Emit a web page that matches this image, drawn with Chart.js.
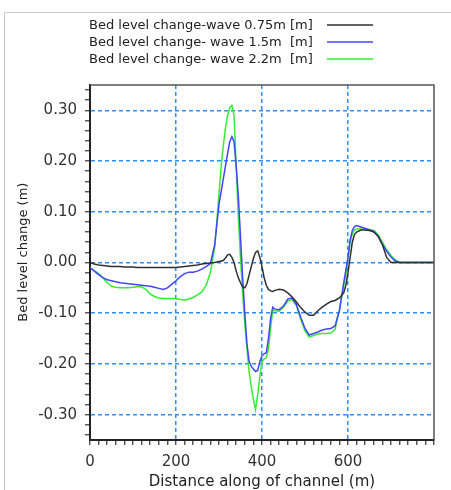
<!DOCTYPE html>
<html>
<head>
<meta charset="utf-8">
<script src="https://cdn.jsdelivr.net/npm/chart.js@4.4.0/dist/chart.umd.min.js"></script>
<style>
  html, body { margin: 0; padding: 0; background: #fff; }
  #wrap { width: 451px; height: 490px; }
</style>
</head>
<body>
<div id="wrap"><canvas id="chart" width="451" height="490"></canvas></div>
<script>
// distance along channel (m)
const distance = [0,10,20,30,40,50,60,70,80,90,100,110,120,130,140,150,160,170,180,190,
  200,210,220,230,240,250,260,270,280,290,300,305,310,315,320,325,330,335,340,345,
  350,355,360,365,370,375,380,385,390,395,400,405,410,415,420,425,430,440,450,460,
  470,480,490,500,510,520,530,540,550,560,570,575,580,590,595,600,605,610,615,620,
  630,640,650,660,670,680,690,700,710,720,740,760,780,800];

// bed level change (m)
const wave075 = [0.000,-0.003,-0.005,-0.006,-0.007,-0.008,-0.008,-0.008,-0.009,-0.009,-0.009,-0.010,-0.010,-0.010,-0.010,-0.010,-0.010,-0.010,-0.010,-0.010,
  -0.010,-0.009,-0.008,-0.007,-0.006,-0.005,-0.003,-0.002,-0.001,0.000,0.002,0.003,0.004,0.009,0.015,0.016,0.010,0.000,-0.017,-0.030,
  -0.040,-0.048,-0.050,-0.042,-0.025,-0.008,0.008,0.020,0.023,0.010,-0.008,-0.030,-0.045,-0.053,-0.056,-0.057,-0.055,-0.053,-0.054,-0.060,
  -0.068,-0.078,-0.089,-0.098,-0.104,-0.104,-0.095,-0.088,-0.082,-0.077,-0.075,-0.072,-0.070,-0.060,-0.045,-0.020,0.010,0.040,0.055,0.060,
  0.064,0.064,0.063,0.060,0.052,0.035,0.010,0.000,0.000,0.000,0.000,0.000,0.000,0.000];

const wave15 = [-0.010,-0.017,-0.024,-0.030,-0.034,-0.036,-0.038,-0.040,-0.041,-0.042,-0.043,-0.044,-0.045,-0.046,-0.047,-0.049,-0.051,-0.053,-0.050,-0.043,
  -0.036,-0.028,-0.022,-0.019,-0.019,-0.017,-0.013,-0.008,-0.002,0.035,0.115,0.140,0.165,0.190,0.215,0.238,0.248,0.238,0.190,0.130,
  0.050,-0.030,-0.100,-0.160,-0.195,-0.205,-0.210,-0.215,-0.213,-0.195,-0.184,-0.180,-0.178,-0.150,-0.110,-0.088,-0.092,-0.093,-0.086,-0.072,
  -0.070,-0.083,-0.108,-0.130,-0.143,-0.140,-0.137,-0.133,-0.131,-0.130,-0.125,-0.110,-0.095,-0.040,-0.015,0.010,0.045,0.063,0.071,0.073,
  0.070,0.067,0.064,0.062,0.052,0.036,0.022,0.011,0.003,0.000,0.000,0.000,0.000,0.000];

const wave22 = [-0.010,-0.016,-0.022,-0.030,-0.040,-0.047,-0.049,-0.050,-0.050,-0.050,-0.049,-0.048,-0.048,-0.053,-0.062,-0.067,-0.070,-0.071,-0.071,-0.071,
  -0.071,-0.073,-0.074,-0.072,-0.069,-0.064,-0.058,-0.045,-0.020,0.030,0.135,0.190,0.230,0.265,0.290,0.305,0.310,0.290,0.190,0.090,
  0.010,-0.060,-0.120,-0.170,-0.215,-0.245,-0.270,-0.290,-0.260,-0.225,-0.196,-0.190,-0.188,-0.170,-0.130,-0.094,-0.095,-0.096,-0.088,-0.076,
  -0.073,-0.085,-0.112,-0.135,-0.147,-0.144,-0.141,-0.140,-0.140,-0.139,-0.132,-0.110,-0.095,-0.045,-0.025,0.010,0.040,0.056,0.064,0.066,
  0.066,0.066,0.065,0.063,0.055,0.040,0.025,0.014,0.005,0.000,0.000,0.000,0.000,0.000];

const seriesLabels = ['Bed level change-wave 0.75m [m]', 'Bed level change- wave 1.5m  [m]', 'Bed level change- wave 2.2m  [m]'];
const seriesColors = ['#303030', '#4444ff', '#33ee33'];
const xMajorTicks = [0, 200, 400, 600];
const yMajorTicks = [-0.30, -0.20, -0.10, 0.00, 0.10, 0.20, 0.30];

const pts = ys => distance.map((d, i) => ({ x: d, y: ys[i] }));
const isMajorX = v => xMajorTicks.includes(Math.round(v));
const isMajorY = v => yMajorTicks.some(t => Math.abs(t - v) < 1e-6);
const FONT = 'DejaVu Sans';

// frame, top/right box lines and the legend (text first, line sample after)
const decor = {
  id: 'decor',
  beforeDraw(chart) {
    const c = chart.ctx;
    c.save();
    c.strokeStyle = '#c8c8c8';
    c.lineWidth = 1;
    c.beginPath();
    c.moveTo(4.5, 490); c.lineTo(4.5, 12.5); c.lineTo(451, 12.5);
    c.stroke();
    c.restore();
  },
  afterDatasetsDraw(chart) {
    const c = chart.ctx, a = chart.chartArea;
    c.save();
    c.strokeStyle = '#555';
    c.lineWidth = 1.5;
    c.beginPath();
    c.moveTo(a.left, a.top); c.lineTo(a.right, a.top); c.lineTo(a.right, a.bottom);
    c.stroke();
    c.font = '13px "' + FONT + '"';
    c.textBaseline = 'middle';
    c.fillStyle = '#222';
    chart.data.datasets.forEach((ds, i) => {
      const y = 25 + i * 17;
      c.fillText(ds.label, 89, y + 1);
      c.strokeStyle = ds.borderColor;
      c.lineWidth = 1.5;
      c.beginPath();
      c.moveTo(327, y); c.lineTo(373, y);
      c.stroke();
    });
    c.restore();
  }
};

new Chart(document.getElementById('chart'), {
  type: 'line',
  data: {
    datasets: [wave075, wave15, wave22].map((s, i) => ({
      label: seriesLabels[i],
      data: pts(s),
      borderColor: seriesColors[i],
      borderWidth: 1.5,
      pointRadius: 0,
      tension: 0,
      fill: false
    }))
  },
  options: {
    responsive: false,
    animation: false,
    layout: { padding: { top: 85, right: 17, left: 0, bottom: 0 } },
    plugins: { legend: { display: false }, tooltip: { enabled: false } },
    scales: {
      x: {
        type: 'linear', min: 0, max: 800,
        afterBuildTicks: s => { const t = []; for (let v = 0; v <= 800; v += 20) t.push({ value: v }); s.ticks = t; },
        afterFit: s => { s.height = 50; s.paddingLeft = 0; s.paddingRight = 0; },
        ticks: {
          autoSkip: false, maxRotation: 0, padding: 8,
          font: { family: FONT, size: 15 }, color: '#333',
          callback: v => isMajorX(v) ? String(v) : ''
        },
        grid: {
          color: c => (c.tick && isMajorX(c.tick.value) && c.tick.value > 0) ? '#2f8fff' : 'rgba(0,0,0,0)',
          lineWidth: 1.5, tickColor: '#333', tickLength: 5, tickWidth: 1.2
        },
        border: { display: true, color: '#222', width: 2, dash: [4, 3] },
        title: { display: true, text: 'Distance along of channel (m)', color: '#222',
          font: { family: FONT, size: 15, lineHeight: 1 }, padding: { top: 0, bottom: 0 } }
      },
      y: {
        type: 'linear', min: -0.35, max: 0.35,
        afterBuildTicks: s => { const t = []; for (let k = -34; k <= 34; k += 2) t.push({ value: k / 100 }); s.ticks = t; },
        afterFit: s => { s.width = 90; s.paddingTop = 0; s.paddingBottom = 0; },
        ticks: {
          autoSkip: false, padding: 8,
          font: { family: FONT, size: 15 }, color: '#333',
          callback: v => isMajorY(v) ? (Math.round(v * 100) / 100).toFixed(2) : ''
        },
        grid: {
          color: c => (c.tick && isMajorY(c.tick.value)) ? '#2f8fff' : 'rgba(0,0,0,0)',
          lineWidth: 1.5, tickColor: '#333', tickLength: 5, tickWidth: 1.2
        },
        border: { display: true, color: '#222', width: 2, dash: [4, 3] },
        title: { display: true, text: '     Bed level change (m)', color: '#222',
          font: { family: FONT, size: 13, lineHeight: 1.2 }, padding: { top: 16, bottom: 0 } }
      }
    }
  },
  plugins: [decor]
});
</script>
</body>
</html>
